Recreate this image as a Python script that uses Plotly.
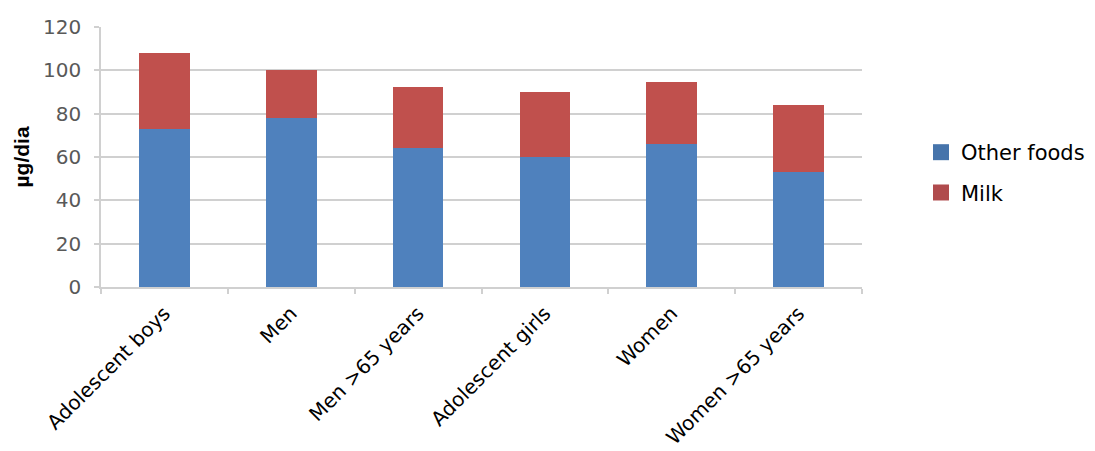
import plotly.graph_objects as go

categories = ["Adolescent boys", "Men", "Men >65 years", "Adolescent girls", "Women", "Women >65 years"]
other_foods = [73, 78, 64, 60, 66, 53]
milk = [35, 22, 28.5, 30, 28.5, 31]
y_ticks = [0, 20, 40, 60, 80, 100, 120]

BLUE = "#4F81BD"
RED = "#C0504D"
GRID = "#D0D0D0"
FONT = "DejaVu Sans"

fig = go.Figure()
fig.add_trace(go.Bar(x=categories, y=other_foods, name="Other foods", marker_color=BLUE,
                     marker_line_width=0, width=0.4, showlegend=False))
fig.add_trace(go.Bar(x=categories, y=milk, name="Milk", marker_color=RED,
                     marker_line_width=0, width=0.4, showlegend=False))
# legend entries
fig.add_trace(go.Scatter(x=[None], y=[None], mode="markers", name="Other foods",
                         marker=dict(symbol="square", size=16, color="#4674AB"),
                         legendgroup="a"))
fig.add_trace(go.Scatter(x=[None], y=[None], mode="markers", name="Milk",
                         marker=dict(symbol="square", size=16, color="#B04B4D"),
                         legendgroup="b"))

fig.update_layout(
    width=1095, height=451,
    margin=dict(l=101, r=233, t=27, b=164, autoexpand=False),
    barmode="stack",
    plot_bgcolor="white", paper_bgcolor="white",
    font=dict(family=FONT, size=20, color="#000000"),
    legend=dict(x=1.0775, y=0.596, xanchor="left", yanchor="top",
                traceorder="grouped", tracegroupgap=10,
                font=dict(family=FONT, size=21, color="#000000"),
                bgcolor="rgba(0,0,0,0)"),
    xaxis=dict(
        type="category", tickangle=-45, tickson="boundaries",
        ticks="outside", ticklen=5, tickcolor=GRID, tickwidth=1.5,
        ticklabelstandoff=5, automargin=False,
        showline=True, linecolor=GRID, linewidth=1.5,
        showgrid=False, zeroline=False,
        tickfont=dict(family=FONT, size=20, color="#000000"),
    ),
    yaxis=dict(
        range=[0, 120], tickvals=y_ticks, ticktext=[str(v) for v in y_ticks],
        showgrid=True, gridcolor=GRID, gridwidth=1.5,
        ticks="outside", ticklen=5, tickcolor=GRID, tickwidth=1.5,
        ticklabelstandoff=9, automargin=False,
        showline=True, linecolor=GRID, linewidth=1.5,
        zeroline=False,
        tickfont=dict(family=FONT, size=20, color="#595959"),
        title=dict(text="µg/dia", standoff=8,
                   font=dict(family="Liberation Sans", size=21, color="#000000", weight="bold")),
    ),
)

fig.write_html("out.html")
